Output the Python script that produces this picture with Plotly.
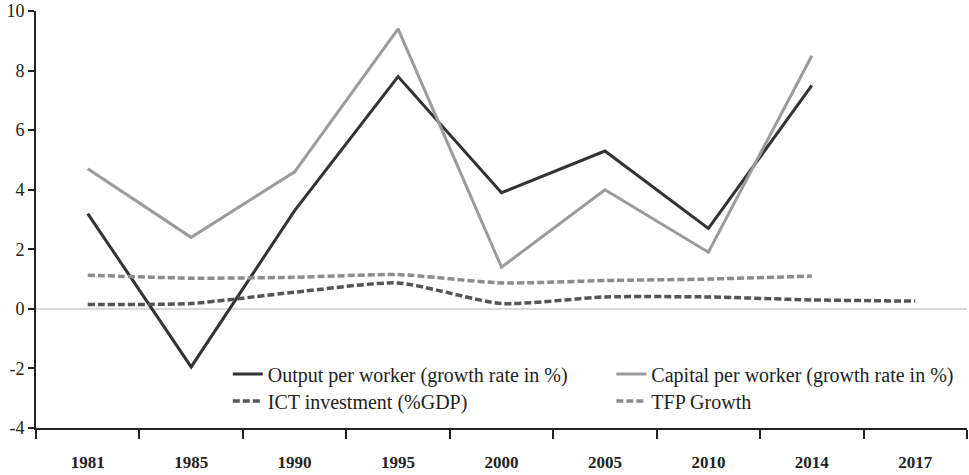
import plotly.graph_objects as go

# Data
years = ["1981", "1985", "1990", "1995", "2000", "2005", "2010", "2014", "2017"]
output_per_worker = [3.2, -1.95, 3.3, 7.8, 3.9, 5.3, 2.7, 7.5, None]
capital_per_worker = [4.7, 2.4, 4.6, 9.4, 1.4, 4.0, 1.9, 8.5, None]
ict_investment = [0.15, 0.18, 0.56, 0.87, 0.18, 0.40, 0.40, 0.30, 0.26]
tfp_growth = [1.13, 1.03, 1.06, 1.15, 0.87, 0.95, 1.0, 1.1, None]

y_ticks = [-4, -2, 0, 2, 4, 6, 8, 10]
y_tick_labels = ["-4", "-2", "0", "2", "4", "6", "8", "10"]

FONT = "Liberation Serif"

fig = go.Figure()

fig.add_trace(go.Scatter(
    x=years, y=output_per_worker, name="Output per worker (growth rate in %)",
    mode="lines", line=dict(color="#333333", width=3), legend="legend",
))
fig.add_trace(go.Scatter(
    x=years, y=capital_per_worker, name="Capital per worker (growth rate in %)",
    mode="lines", line=dict(color="#9b9b9b", width=3), legend="legend2",
))
fig.add_trace(go.Scatter(
    x=years, y=ict_investment, name="ICT investment (%GDP)",
    mode="lines", line=dict(color="#555555", width=3.5, dash="7px,3px", shape="spline", smoothing=0.6),
    legend="legend3",
))
fig.add_trace(go.Scatter(
    x=years, y=tfp_growth, name="TFP Growth",
    mode="lines", line=dict(color="#8c8c8c", width=3.5, dash="7px,3px", shape="spline", smoothing=0.6),
    legend="legend4",
))

legend_style = dict(
    font=dict(family=FONT, size=20, color="#222222"),
    bgcolor="rgba(0,0,0,0)", yanchor="middle", xanchor="left",
    itemwidth=30,
)

# one legend per entry so the 2x2 block sits like the original
col1, col2 = 0.206, 0.618
row1, row2 = 0.1295, 0.0647

fig.update_layout(
    width=969,
    height=475,
    margin=dict(l=36, r=2, t=11, b=47),
    plot_bgcolor="white",
    paper_bgcolor="white",
    font=dict(family=FONT, color="#222222"),
    showlegend=True,
    legend=dict(x=col1, y=row1, **legend_style),
    legend2=dict(x=col2, y=row1, **legend_style),
    legend3=dict(x=col1, y=row2, **legend_style),
    legend4=dict(x=col2, y=row2, **legend_style),
    xaxis=dict(
        type="category",
        range=[-0.5, 8.5],
        automargin=False,
        showgrid=False,
        showline=True, linecolor="#222222", linewidth=2,
        ticks="outside", tickson="boundaries", ticklen=9, tickwidth=2, tickcolor="#222222",
        ticklabelstandoff=18,
        tickfont=dict(family=FONT, size=17, color="#222222", weight="bold"),
        zeroline=False,
    ),
    yaxis=dict(
        range=[-4, 10],
        tickvals=y_ticks,
        ticktext=y_tick_labels,
        automargin=False,
        showgrid=False,
        showline=True, linecolor="#222222", linewidth=2,
        ticks="outside", ticklen=6, tickwidth=2, tickcolor="#222222",
        tickfont=dict(family=FONT, size=18, color="#222222"),
        zeroline=True, zerolinecolor="#d9d9d9", zerolinewidth=1.5,
    ),
)

fig.write_html(
    "out.html",
    config={"displayModeBar": False},
    post_script="document.body.style.margin='0';",
)
